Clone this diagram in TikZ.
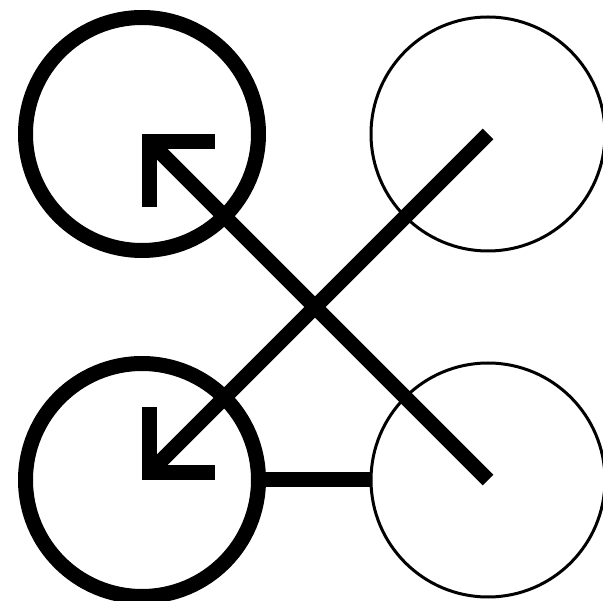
\documentclass[tikz,border=0pt]{standalone}
\usetikzlibrary{arrows.meta}
\begin{document}
\begin{tikzpicture}[x=1pt,y=-1pt,
  thickring/.style={circle,draw,line width=15pt,minimum size=233pt,inner sep=0pt},
  thinring/.style={circle,draw,line width=3pt,minimum size=234pt,inner sep=0pt},
  link/.style={line width=15pt},
  barb/.style={link,-{Straight Barb[angle=90:65.5pt,line cap=butt,line join=miter]}}]
\useasboundingbox (0,0) rectangle (603,601);
\node[thickring] (tl) at (142,134) {};
\node[thinring]  (tr) at (488,134) {};
\node[thickring] (bl) at (142,480) {};
\node[thinring]  (br) at (488,480) {};
\draw[barb] (br.center) -- (tl.center);
\draw[barb] (tr.center) -- (bl.center);
\draw[link] (bl) -- (br);
\end{tikzpicture}
\end{document}
